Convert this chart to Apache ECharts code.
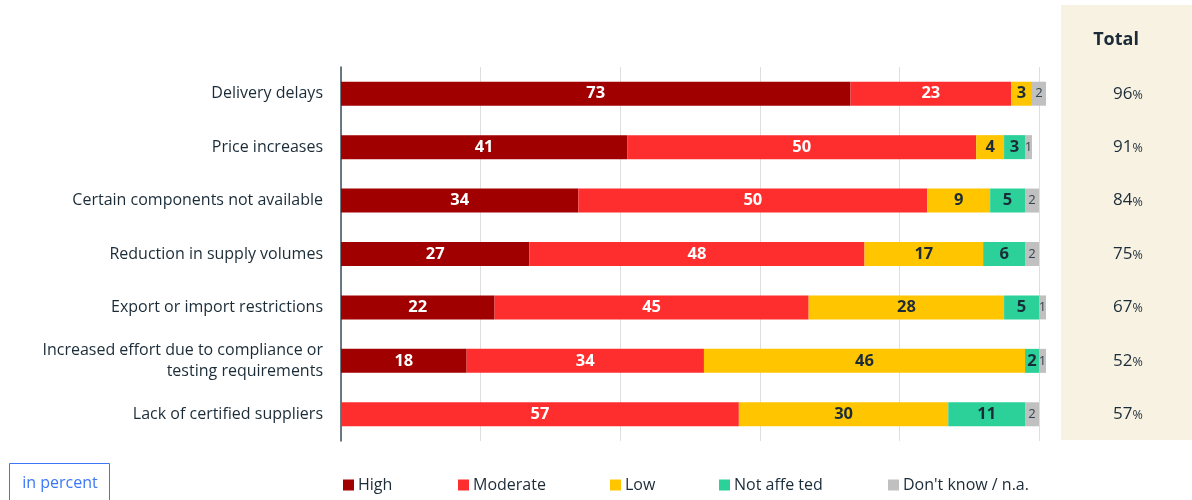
<!DOCTYPE html>
<html>
<head>
<meta charset="utf-8">
<title>Supply chain problems</title>
<script src="https://cdn.jsdelivr.net/npm/echarts@6/dist/echarts.min.js"></script>
<style>
  html, body { margin: 0; padding: 0; background: #ffffff; }
  #chart { width: 1192px; height: 500px; }
</style>
</head>
<body>
<div id="chart"></div>
<script>
// Problems and how strongly companies are affected (in percent)
const categories = [
  'Delivery delays',
  'Price increases',
  'Certain components not available',
  'Reduction in supply volumes',
  'Export or import restrictions',
  'Increased effort due to compliance or\ntesting requirements',
  'Lack of certified suppliers'
];
const high      = [73, 41, 34, 27, 22, 18, 0];
const moderate  = [23, 50, 50, 48, 45, 34, 57];
const low       = [3, 4, 9, 17, 28, 46, 30];
const notAffected = [0, 3, 5, 6, 5, 2, 11];
const dontKnow  = [2, 1, 2, 2, 1, 1, 2];
const totals    = [96, 91, 84, 75, 67, 52, 57];

const seriesNames = ['High', 'Moderate', 'Low', 'Not affe ted', "Don't know / n.a."];
const colors = ['#a00000', '#ff2e2e', '#ffc600', '#2bd198', '#c0c0c0'];

const FONT = '"Open Sans", "Noto Sans", sans-serif';
const DARK = '#1b2c38';

const chart = echarts.init(document.getElementById('chart'), null, { renderer: 'canvas' });

function barSeries(name, data, color, labelColor, small) {
  return {
    name: name,
    type: 'bar',
    stack: 'total',
    data: data,
    barWidth: 24,
    clip: false,
    itemStyle: { color: color },
    emphasis: { disabled: true },
    label: {
      show: true,
      position: 'inside',
      color: labelColor,
      fontFamily: FONT,
      fontSize: small ? 13 : 16.5,
      fontWeight: small ? 'normal' : 'bold',
      formatter: p => (p.value ? String(p.value) : '')
    }
  };
}

// one legend block per item so each sits at its own column
const legendLefts = [338, 453, 605, 714, 883];
const legends = seriesNames.map((n, i) => ({
  data: [n],
  left: legendLefts[i],
  top: 472,
  icon: 'rect',
  itemWidth: 11,
  itemHeight: 11,
  itemGap: 0,
  selectedMode: false,
  textStyle: { fontFamily: FONT, fontSize: 16, color: DARK, padding: [0, 0, 0, -1] }
}));

const option = {
  animation: false,
  textStyle: { fontFamily: FONT },
  grid: { left: 341, right: 153, top: 67, bottom: 59, containLabel: false },
  xAxis: {
    type: 'value',
    min: 0,
    max: 100,
    interval: 20,
    axisLabel: { show: false },
    axisLine: { show: false },
    axisTick: { show: false },
    splitLine: { show: true, lineStyle: { color: '#dedede', width: 1 } }
  },
  yAxis: [
    {
      type: 'category',
      data: categories,
      inverse: true,
      axisLine: { show: true, lineStyle: { color: '#3c4f5c', width: 1.5 } },
      axisTick: { show: false },
      axisLabel: {
        margin: 18,
        fontFamily: FONT,
        fontSize: 16,
        color: DARK,
        lineHeight: 21,
        align: 'right'
      }
    },
    {
      type: 'category',
      data: totals,
      inverse: true,
      position: 'right',
      axisLine: { show: false },
      axisTick: { show: false },
      axisLabel: {
        margin: 89,
        align: 'center',
        formatter: v => '{n|' + v + '}{p|%}',
        rich: {
          n: { fontFamily: FONT, fontSize: 17, color: DARK },
          p: { fontFamily: FONT, fontSize: 12.5, color: DARK, padding: [3, 0, 0, 0] }
        }
      }
    }
  ],
  legend: legends,
  graphic: [
    {
      type: 'rect',
      z: -10,
      shape: { x: 1061, y: 5, width: 131, height: 435 },
      style: { fill: '#f8f2e2' }
    },
    {
      type: 'text',
      x: 1116, y: 40,
      style: {
        text: 'Total', fontFamily: FONT, fontSize: 18, fontWeight: 'bold',
        fill: DARK, align: 'center', verticalAlign: 'middle'
      }
    },
    {
      type: 'rect',
      shape: { x: 9.5, y: 463.5, width: 100, height: 42 },
      style: { fill: 'none', stroke: '#3c78f5', lineWidth: 1 }
    },
    {
      type: 'text',
      x: 60, y: 483,
      style: {
        text: 'in percent', fontFamily: FONT, fontSize: 16,
        fill: '#3c78f5', align: 'center', verticalAlign: 'middle'
      }
    }
  ],
  series: [
    barSeries(seriesNames[0], high, colors[0], '#ffffff', false),
    barSeries(seriesNames[1], moderate, colors[1], '#ffffff', false),
    barSeries(seriesNames[2], low, colors[2], DARK, false),
    barSeries(seriesNames[3], notAffected, colors[3], DARK, false),
    barSeries(seriesNames[4], dontKnow, colors[4], '#33444f', true)
  ]
};

chart.setOption(option);
</script>
</body>
</html>
